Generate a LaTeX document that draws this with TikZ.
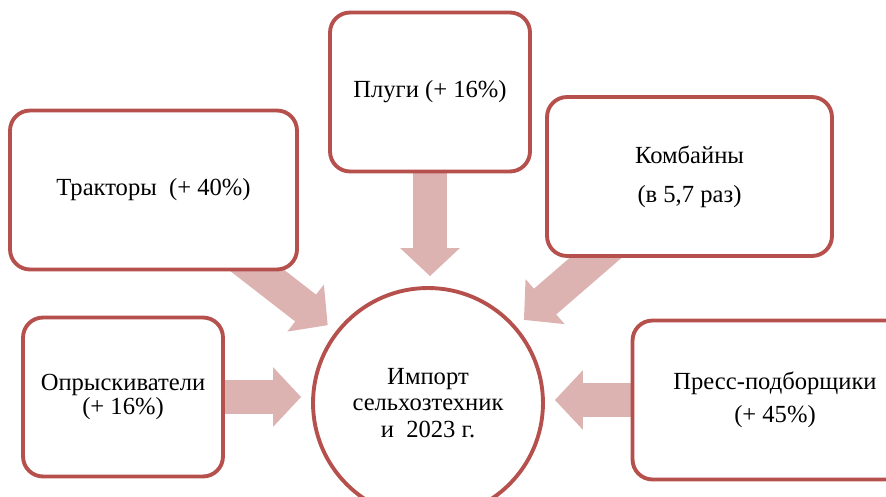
\documentclass[tikz,border=0pt]{standalone}
\usepackage{fontspec}
\setmainfont{Liberation Serif}
\definecolor{brick}{HTML}{B5504D}
\definecolor{brickpale}{HTML}{DDB3B2}
\usetikzlibrary{arrows.meta,backgrounds}

\begin{document}
\begin{tikzpicture}[x=0.02cm,y=-0.02cm,font=\fontsize{14}{15}\selectfont,
  box/.style={draw=brick,rounded corners=0.4cm,line width=2.2pt,fill=white,align=center,minimum height=3.18cm},
  hub/.style={draw=brick,circle,line width=2.2pt,fill=white,align=center,minimum size=4.6cm,inner sep=0pt},
  arr/.style={-{Triangle[length=5.6mm,width=11.6mm]},line width=6.8mm,brickpale,shorten >=2mm}]
\useasboundingbox (0,0) rectangle (886,497);
\clip (0,0) rectangle (886,497);
\node[box,minimum width=5.74cm] (trak) at (153.5,190) {Тракторы~ (+ 40\%)};
\node[box,minimum width=4cm] (plugi) at (430,92) {Плуги (+ 16\%)};
\node[box,minimum width=5.7cm] (komb) at (689.5,176.5) {Комбайны\\[7pt](в 5,7 раз)};
\node[box,minimum width=4cm] (opr) at (123,397) {Опрыскиватели\\[-1pt](+ 16\%)};
\node[box,minimum width=5.7cm] (press) at (775,400) {Пресс-подборщики\\[4pt](+ 45\%)};
\node[hub] (imp) at (428,403) {Импорт\\сельхозтехник\\и~ 2023 г.};
\begin{scope}[on background layer]
\draw[arr] (plugi.center) -- (plugi.center |- imp.north);
\draw[arr] (trak.center) -- (imp);
\draw[arr] (komb.center) -- (imp);
\draw[arr] (opr.center) -- (opr.center -| imp.west);
\draw[arr] (press.center) -- (press.center -| imp.east);
\end{scope}
\end{tikzpicture}
\end{document}
